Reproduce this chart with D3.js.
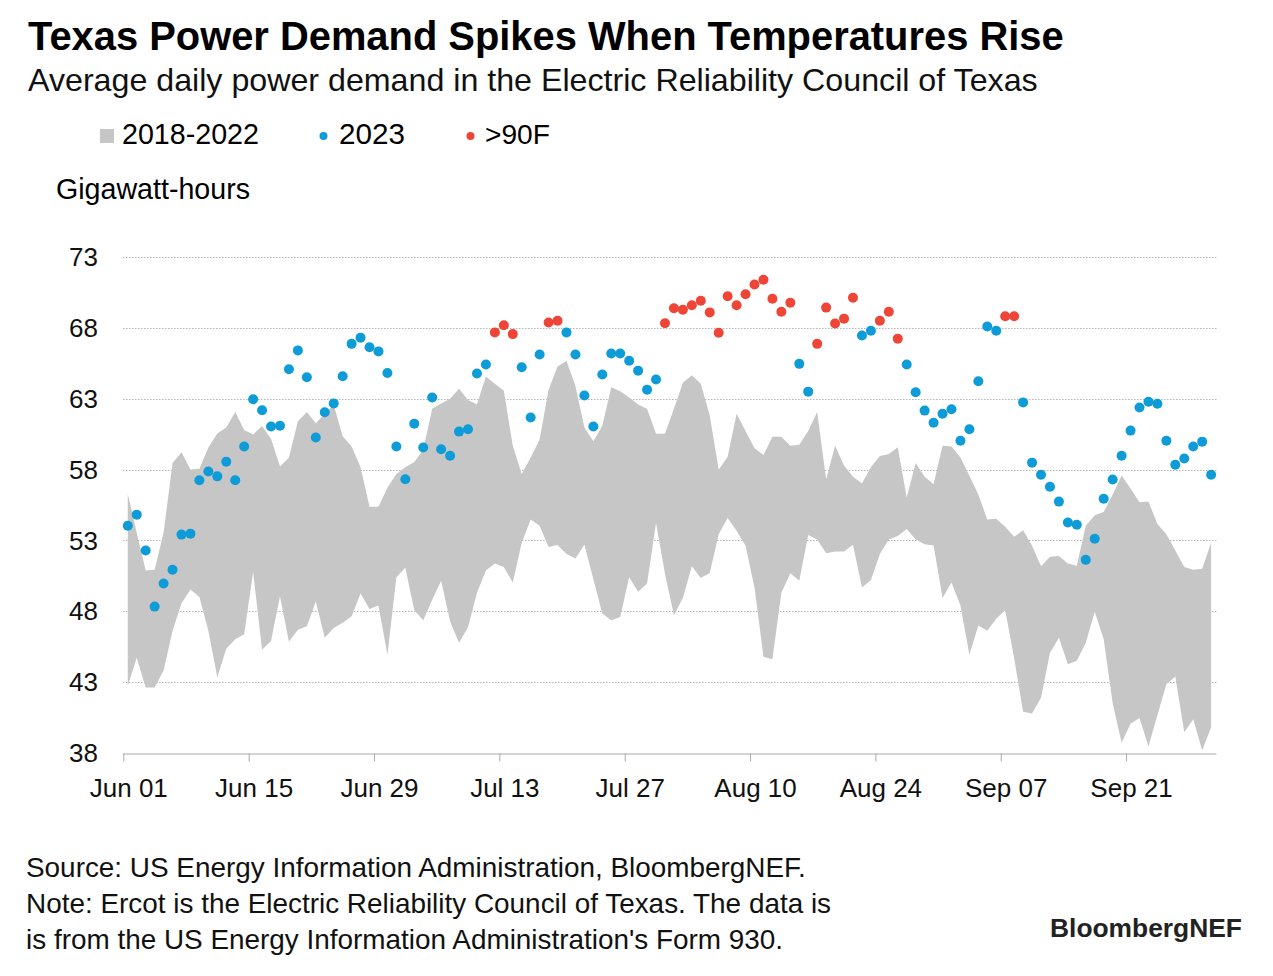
<!DOCTYPE html>
<html>
<head>
<meta charset="utf-8">
<script src="https://cdn.jsdelivr.net/npm/d3@7"></script>
<style>
  html, body { margin: 0; padding: 0; background: #fff; }
  svg { display: block; font-family: "Liberation Sans", Arial, Helvetica, sans-serif; }
</style>
</head>
<body>
<svg id="chart" width="1273" height="976"></svg>
<script>
// ---------- DATA ----------
const startDate = "2023-06-01";
const endDate = "2023-10-01";
const xTickLabels = ["Jun 01", "Jun 15", "Jun 29", "Jul 13", "Jul 27", "Aug 10", "Aug 24", "Sep 07", "Sep 21"];
const yTicks = [38, 43, 48, 53, 58, 63, 68, 73];

// 2023 average daily demand (GWh), Jun 1 .. Sep 30
const demand2023 = [
  54.04, 54.82, 52.29, 48.33, 49.96, 50.93, 53.41, 53.48, 57.25, 57.86,
  57.52, 58.56, 57.25, 59.63, 62.96, 62.18, 61.04, 61.09, 65.08, 66.41,
  64.52, 60.26, 62.04, 62.67, 64.59, 66.87, 67.31, 66.63, 66.34, 64.81,
  59.63, 57.32, 61.24, 59.56, 63.08, 59.44, 58.97, 60.68, 60.85, 64.78,
  65.42, 67.68, 68.19, 67.56, 65.22, 61.67, 66.12, 68.38, 68.50, 67.68,
  66.12, 63.23, 61.04, 64.71, 66.19, 66.19, 65.68, 64.98, 63.64, 64.35,
  68.33, 69.38, 69.28, 69.60, 69.91, 69.09, 67.65, 70.23, 69.60, 70.37,
  71.06, 71.40, 70.06, 69.14, 69.77, 65.46, 63.50, 66.87, 69.43, 68.31,
  68.65, 70.13, 67.46, 67.80, 68.50, 69.14, 67.24, 65.42, 63.45, 62.16,
  61.31, 61.94, 62.26, 60.04, 60.85, 64.23, 68.09, 67.80, 68.82, 68.82,
  62.74, 58.49, 57.64, 56.79, 55.74, 54.26, 54.11, 51.63, 53.12, 55.94,
  57.30, 58.97, 60.75, 62.38, 62.79, 62.65, 60.04, 58.34, 58.78, 59.63,
  59.97, 57.64
];

// Days (index from Jun 1) above 90F
const hotDays = [41, 42, 43, 47, 48, 60, 61, 62, 63, 64, 65, 66, 67, 68, 69, 70, 71, 72, 73, 74,
  77, 78, 79, 80, 81, 84, 85, 86, 98, 99];

// 2018-2022 range: high and low
const rangeHigh = [
  56.30, 53.55, 50.88, 50.93, 53.55, 58.46, 59.22, 58.00, 58.05, 59.56,
  60.55, 60.97, 62.06, 60.80, 60.48, 61.07, 60.17, 58.22, 58.83, 61.41,
  62.06, 61.26, 61.94, 62.55, 60.36, 59.63, 58.17, 55.38, 55.38, 56.71,
  57.69, 58.17, 58.54, 59.39, 62.30, 62.67, 62.99, 63.71, 62.91, 62.60,
  64.57, 64.06, 63.57, 59.68, 57.69, 58.85, 60.12, 63.64, 65.27, 65.66,
  63.89, 60.97, 60.00, 61.09, 63.81, 63.52, 63.08, 62.60, 62.30, 60.53,
  60.53, 62.30, 64.13, 64.66, 64.05, 61.82, 57.98, 58.90, 61.94, 60.72,
  59.51, 59.02, 60.31, 60.31, 59.68, 59.75, 60.72, 62.06, 57.32, 59.68,
  58.29, 57.49, 57.01, 58.17, 58.95, 59.10, 59.58, 56.03, 58.46, 57.49,
  56.96, 59.68, 59.63, 58.85, 57.57, 56.23, 54.48, 54.53, 53.97, 53.26,
  53.72, 52.63, 51.17, 51.85, 51.90, 51.37, 51.22, 54.04, 54.77, 55.01,
  56.23, 57.59, 56.67, 55.69, 55.74, 54.16, 53.43, 52.29, 51.12, 50.93,
  51.00, 52.83
];
const rangeLow = [
  42.74, 44.73, 42.62, 42.62, 43.83, 46.63, 48.57, 49.54, 49.01, 46.63,
  43.35, 45.36, 46.02, 46.38, 50.76, 45.29, 45.90, 49.06, 45.85, 46.70,
  46.94, 48.69, 46.14, 46.82, 47.19, 47.65, 49.25, 48.16, 48.40, 44.93,
  50.40, 51.08, 48.08, 47.36, 48.81, 50.15, 47.28, 45.78, 46.87, 49.30,
  50.88, 51.37, 51.12, 50.03, 52.83, 54.48, 54.04, 52.53, 52.68, 52.05,
  51.73, 52.70, 50.27, 47.84, 47.36, 47.60, 50.40, 49.37, 49.96, 54.23,
  50.64, 47.72, 48.94, 51.17, 50.35, 50.71, 53.43, 54.58, 53.68, 52.63,
  49.67, 44.80, 44.61, 49.30, 50.69, 50.15, 53.38, 53.07, 52.10, 52.22,
  52.22, 52.70, 49.67, 50.20, 52.05, 53.07, 53.31, 53.80, 53.07, 52.73,
  52.65, 48.94, 50.03, 48.40, 44.93, 46.99, 46.63, 47.48, 48.08, 44.68,
  40.91, 40.79, 41.89, 45.05, 46.14, 44.27, 44.51, 45.78, 47.96, 46.02,
  41.52, 38.73, 40.06, 40.47, 38.48, 40.67, 42.86, 43.39, 39.46, 40.38,
  38.19, 39.82
];

const legendLabels = ["2018-2022", "2023", ">90F"];
const titleText = "Texas Power Demand Spikes When Temperatures Rise";
const subtitleText = "Average daily power demand in the Electric Reliability Council of Texas";
const unitText = "Gigawatt-hours";
const footLines = [
  "Source: US Energy Information Administration, BloombergNEF.",
  "Note: Ercot is the Electric Reliability Council of Texas. The data is",
  "is from the US Energy Information Administration's Form 930."
];

// ---------- STYLE ----------
const COL_AREA = "#c6c6c6";
const COL_BLUE = "#0e9cd9";
const COL_RED = "#ee4537";
const COL_TEXT = "#000";

const svg = d3.select("#chart");

const parse = d3.utcParse("%Y-%m-%d");
const t0 = parse(startDate), t1 = parse(endDate);
const days = d3.utcDay.range(t0, t1);
const mid = d => d3.utcHour.offset(d, 12);

const x = d3.scaleUtc().domain([t0, t1]).range([123.3, 1215.6]);
const y = d3.scaleLinear().domain([38, 73]).range([753, 257]);

const rows = days.map((d, i) => ({
  date: d, v: demand2023[i], lo: rangeLow[i], hi: rangeHigh[i], hot: hotDays.includes(i)
}));

function fit(sel, width) {
  const node = sel.node();
  const fs = parseFloat(sel.attr("font-size"));
  const w = node.getComputedTextLength();
  sel.attr("font-size", (fs * width / w).toFixed(2));
}

// ---------- TITLES ----------
svg.append("text").attr("x", 28).attr("y", 50)
  .attr("font-size", 40).attr("font-weight", "bold").attr("fill", COL_TEXT)
  .text(titleText).call(fit, 1036);
svg.append("text").attr("x", 28).attr("y", 91)
  .attr("font-size", 28).attr("fill", "#111")
  .text(subtitleText).call(fit, 1010);

// ---------- LEGEND ----------
const lg = svg.append("g");
lg.append("rect").attr("x", 100).attr("y", 129).attr("width", 14).attr("height", 14).attr("fill", COL_AREA);
lg.append("text").attr("x", 122).attr("y", 144).attr("font-size", 26).text(legendLabels[0]).call(fit, 137);
lg.append("circle").attr("cx", 323.5).attr("cy", 136).attr("r", 4).attr("fill", COL_BLUE);
lg.append("text").attr("x", 339).attr("y", 144).attr("font-size", 26).text(legendLabels[1]).call(fit, 66);
lg.append("circle").attr("cx", 470.5).attr("cy", 136).attr("r", 4).attr("fill", COL_RED);
lg.append("text").attr("x", 485).attr("y", 144).attr("font-size", 26).text(legendLabels[2]).call(fit, 65);

svg.append("text").attr("x", 56).attr("y", 199).attr("font-size", 26)
  .text(unitText).call(fit, 194);

// ---------- GRID ----------
svg.append("g").selectAll("line").data(yTicks.filter(t => t !== 38)).join("line")
  .attr("x1", 123).attr("x2", 1216.5)
  .attr("y1", d => Math.round(y(d)) + 0.5).attr("y2", d => Math.round(y(d)) + 0.5)
  .attr("stroke", "#b5b5b5").attr("stroke-width", 1).attr("stroke-dasharray", "1.5,1.5");

// y labels
svg.append("g").selectAll("text").data(yTicks).join("text")
  .attr("x", 98).attr("y", d => y(d)).attr("dy", "0.35em")
  .attr("text-anchor", "end").attr("font-size", 26).attr("fill", "#111")
  .text(d => d);

// ---------- AREA ----------
const area = d3.area()
  .x(d => x(mid(d.date)))
  .y0(d => y(d.lo))
  .y1(d => y(d.hi));
svg.append("path").datum(rows).attr("d", area).attr("fill", COL_AREA);

// ---------- X AXIS ----------
const tickDates = xTickLabels.map((l, i) => d3.utcDay.offset(t0, 14 * i));
const xAxis = d3.axisBottom(x).tickValues(tickDates)
  .tickFormat((d, i) => xTickLabels[i]).tickSize(8).tickSizeOuter(0);
const gx = svg.append("g").attr("transform", "translate(0,753.5)").call(xAxis);
gx.select(".domain").attr("stroke", "#aaa").attr("d", `M${123},0.5H${1216.5}`);
gx.selectAll(".tick line").attr("stroke", "#aaa");
gx.selectAll(".tick text").attr("font-size", 26).attr("font-family", "Liberation Sans, Arial, sans-serif")
  .attr("fill", "#111").attr("x", 5).attr("y", 25).attr("dy", "0.71em");

// ---------- DOTS ----------
svg.append("g").selectAll("circle").data(rows).join("circle")
  .attr("cx", d => x(mid(d.date)))
  .attr("cy", d => y(d.v))
  .attr("r", 5)
  .attr("fill", d => d.hot ? COL_RED : COL_BLUE);

// ---------- FOOTER ----------
const foot = svg.append("g");
footLines.forEach((l, i) => {
  const t = foot.append("text").attr("x", 26).attr("y", 877 + 36 * i).attr("font-size", 26).attr("fill", "#111").text(l);
  if (i === 0) t.call(fit, 780);
});
const fs0 = foot.select("text").attr("font-size");
foot.selectAll("text").attr("font-size", fs0);

svg.append("text").attr("x", 1050).attr("y", 937).attr("font-size", 26)
  .attr("font-weight", "bold").attr("fill", "#222")
  .text("BloombergNEF").call(fit, 192);
</script>
</body>
</html>
